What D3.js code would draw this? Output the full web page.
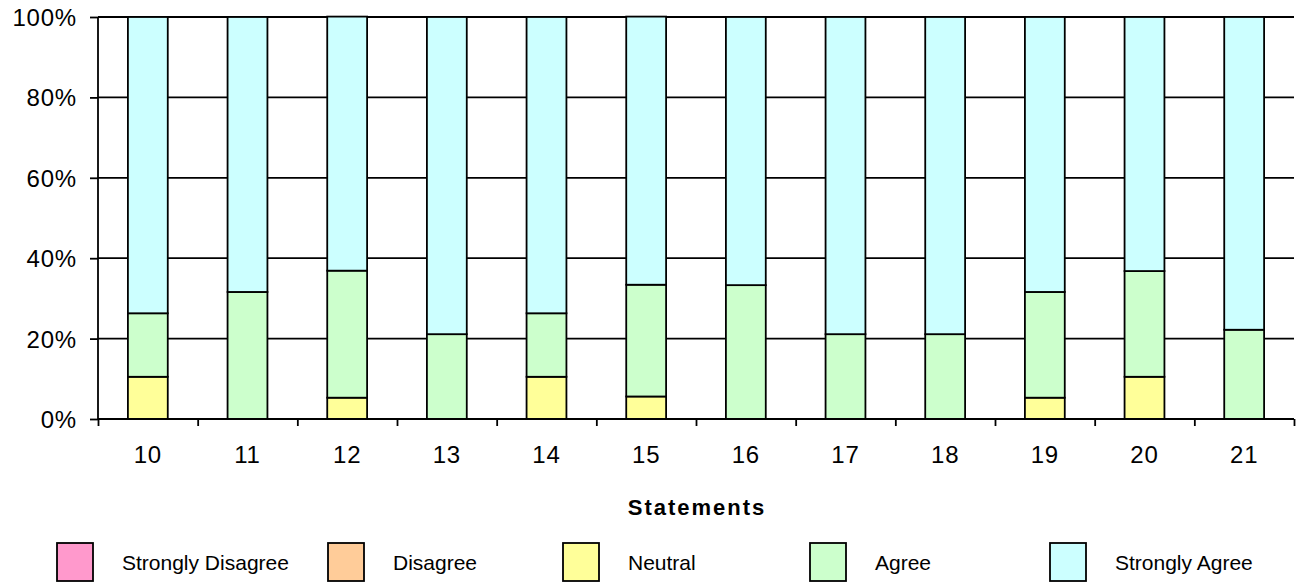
<!DOCTYPE html>
<html>
<head>
<meta charset="utf-8">
<script src="https://cdn.jsdelivr.net/npm/d3@7/dist/d3.min.js"></script>
<style>
  body { margin: 0; background: #fff; }
  text { font-family: "Liberation Sans", Arial, sans-serif; fill: #000; }
</style>
</head>
<body>
<svg id="chart" width="1298" height="583"></svg>
<script>
// survey answers per statement, in percent
let statements = ["10", "11", "12", "13", "14", "15", "16", "17", "18", "19", "20", "21"];
let seriesNames = ["Strongly Disagree", "Disagree", "Neutral", "Agree", "Strongly Agree"];
let seriesColors = ["#FF99CC", "#FFCC99", "#FFFF99", "#CCFFCC", "#CCFFFF"];
let stronglyDisagree = [0, 0, 0, 0, 0, 0, 0, 0, 0, 0, 0, 0];
let disagree = [0, 0, 0, 0, 0, 0, 0, 0, 0, 0, 0, 0];
let neutral = [10.5, 0, 5.3, 0, 10.5, 5.6, 0, 0, 0, 5.3, 10.5, 0];
let agree = [15.8, 31.6, 31.6, 21.1, 15.8, 27.8, 33.3, 21.1, 21.1, 26.3, 26.3, 22.2];
let stronglyAgree = [73.7, 68.4, 63.2, 78.9, 73.7, 66.7, 66.7, 78.9, 78.9, 68.4, 63.2, 77.8];
let yTicks = [0, 20, 40, 60, 80, 100];

let chart = d3.select("#chart"),
    margin = {top: 17, right: 4, bottom: 164, left: 98},
    width = +chart.attr("width") - margin.left - margin.right,
    height = +chart.attr("height") - margin.top - margin.bottom;

let table = statements.map(function(s, i) {
    return {
        key: s,
        "Strongly Disagree": stronglyDisagree[i],
        "Disagree": disagree[i],
        "Neutral": neutral[i],
        "Agree": agree[i],
        "Strongly Agree": stronglyAgree[i]
    };
});

let stacked = d3.stack().keys(seriesNames)(table);

let x = d3.scaleBand()
    .domain(statements)
    .range([0, width])
    .paddingInner(0.6)
    .paddingOuter(0.3);

let xTicks = d3.scaleLinear().domain([0, statements.length]).range([0, width]);

let y = d3.scaleLinear()
    .domain([0, 100])
    .range([height, 0]);

let color = d3.scaleOrdinal().domain(seriesNames).range(seriesColors);

let focus = chart.append("g")
    .attr("transform", "translate(" + margin.left + "," + margin.top + ")");

// horizontal grid lines
focus.append("g")
    .selectAll("line")
    .data(yTicks)
    .enter()
    .append("line")
    .attr("x1", 0)
    .attr("x2", width)
    .attr("y1", d => y(d))
    .attr("y2", d => y(d))
    .attr("stroke", "#000")
    .attr("stroke-width", 1.8);

// stacked bars
focus.selectAll(".series")
    .data(stacked)
    .enter()
    .append("g")
    .attr("class", "series")
    .attr("fill", d => color(d.key))
    .selectAll("rect")
    .data(d => d.filter(p => p[1] - p[0] > 0))
    .enter()
    .append("rect")
    .attr("x", d => x(d.data.key))
    .attr("y", d => y(d[1]))
    .attr("width", x.bandwidth())
    .attr("height", d => y(d[0]) - y(d[1]))
    .attr("stroke", "#000")
    .attr("stroke-width", 1.8);

// y axis
let yAxis = d3.axisLeft(y)
    .tickValues(yTicks)
    .tickSize(8)
    .tickPadding(13)
    .tickFormat(d => d + "%");

let yg = focus.append("g").call(yAxis);
yg.select(".domain").attr("stroke-width", 1.8).attr("d", "M0," + height + "V0");
yg.selectAll(".tick line").attr("stroke-width", 1.8);
yg.selectAll("text")
    .style("font-size", "24px")
    .style("letter-spacing", "0.8px")
    .style("font-family", "Liberation Sans, Arial, sans-serif")
    .attr("dy", "0.35em");

// x axis line with ticks at the category boundaries
let xAxis = d3.axisBottom(xTicks)
    .tickValues(d3.range(0, statements.length + 1))
    .tickSize(7)
    .tickFormat("");

let xg = focus.append("g")
    .attr("transform", "translate(0," + height + ")")
    .call(xAxis);
xg.select(".domain").attr("stroke-width", 1.8).attr("d", "M0,0H" + width);
xg.selectAll(".tick line").attr("stroke-width", 1.8);

// category labels
focus.append("g")
    .selectAll("text")
    .data(statements)
    .enter()
    .append("text")
    .attr("x", d => x(d) + x.bandwidth() / 2)
    .attr("y", height + 44)
    .attr("text-anchor", "middle")
    .style("font-size", "24px")
    .style("letter-spacing", "0.8px")
    .text(d => d);

// axis title
chart.append("text")
    .attr("x", 697)
    .attr("y", 515)
    .attr("text-anchor", "middle")
    .style("font-size", "22px")
    .style("font-weight", "bold")
    .style("letter-spacing", "2px")
    .text("Statements");

// legend
let legendX = [57, 328, 563, 810, 1050];
let legend = chart.append("g")
    .selectAll("g")
    .data(seriesNames)
    .enter()
    .append("g")
    .attr("transform", (d, i) => "translate(" + legendX[i] + ",543)");

legend.append("rect")
    .attr("width", 36)
    .attr("height", 38)
    .attr("fill", d => color(d))
    .attr("stroke", "#000")
    .attr("stroke-width", 1.8);

legend.append("text")
    .attr("x", 65)
    .attr("y", 27)
    .style("font-size", "21px")
    .text(d => d);
</script>
</body>
</html>
